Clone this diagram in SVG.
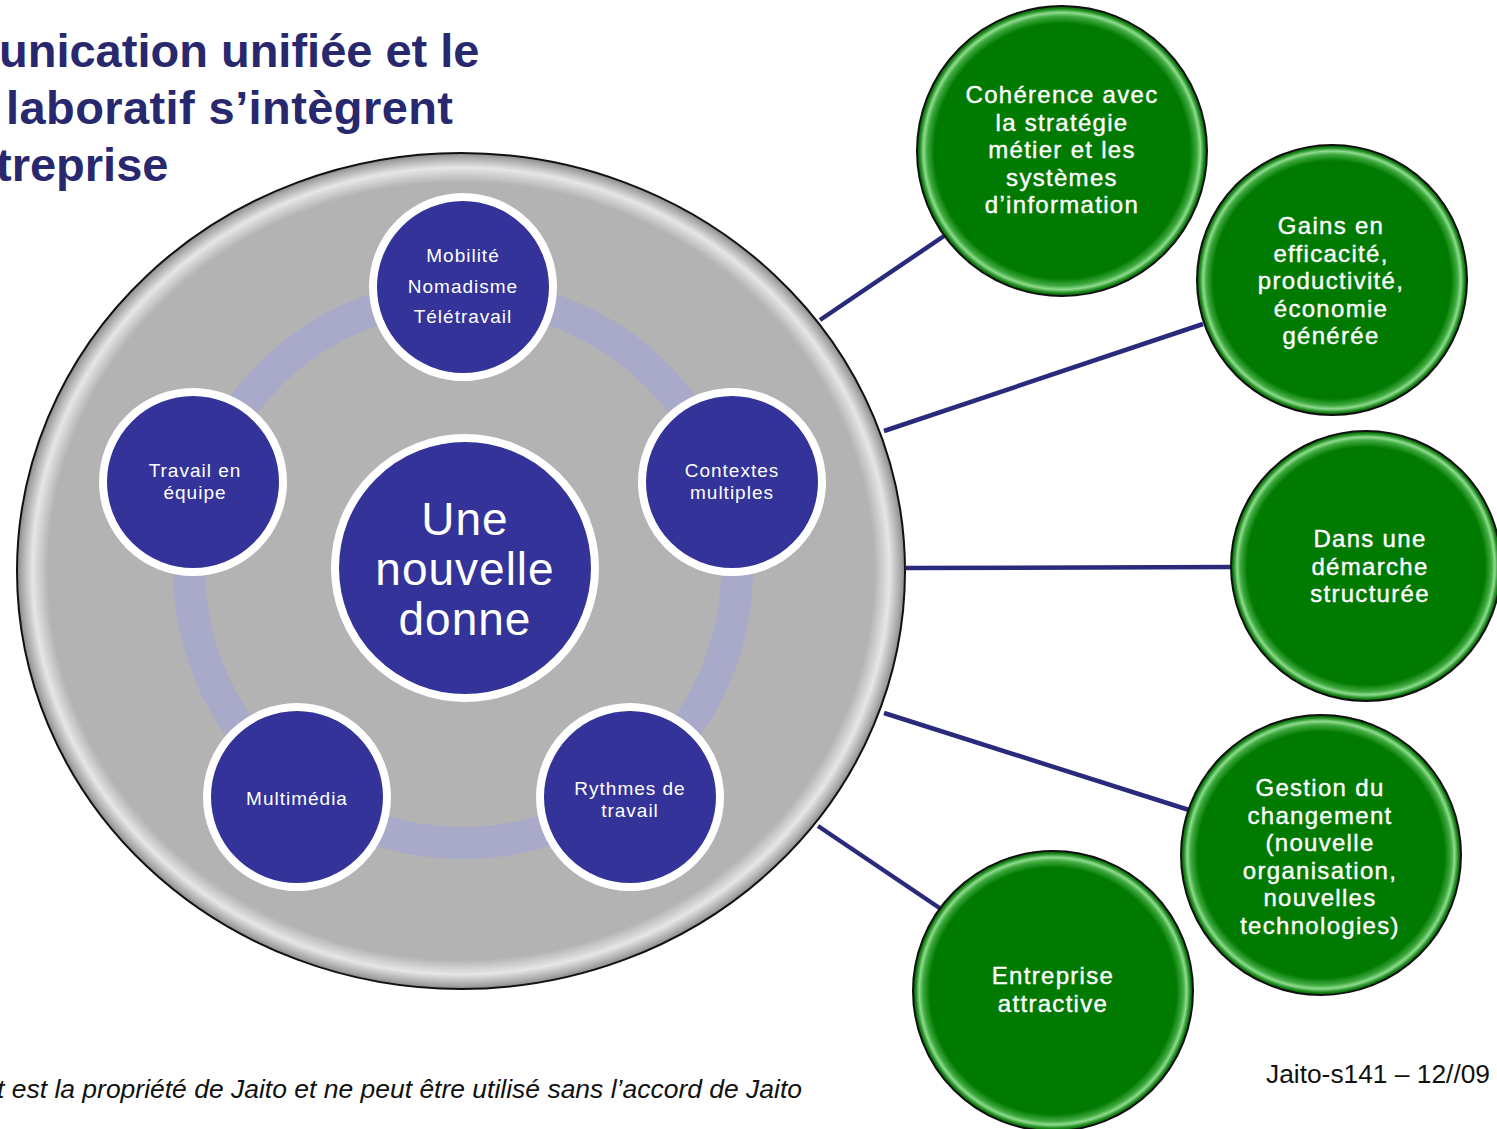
<svg xmlns="http://www.w3.org/2000/svg" width="1497" height="1129" viewBox="0 0 1497 1129">
<defs>
  <radialGradient id="gray" cx="50%" cy="50%" r="50%">
    <stop offset="0" stop-color="#b3b3b3"/>
    <stop offset="0.93" stop-color="#b3b3b3"/>
    <stop offset="0.965" stop-color="#e6e6e6"/>
    <stop offset="0.99" stop-color="#a8a8a8"/>
    <stop offset="1" stop-color="#8a8a8a"/>
  </radialGradient>
  <radialGradient id="green" cx="50%" cy="50%" r="50%">
    <stop offset="0" stop-color="#007a00"/>
    <stop offset="0.88" stop-color="#007a00"/>
    <stop offset="0.93" stop-color="#3faa3f"/>
    <stop offset="0.955" stop-color="#8fdc8f"/>
    <stop offset="0.98" stop-color="#1c8a1c"/>
    <stop offset="1" stop-color="#006000"/>
  </radialGradient>
  <style>
    .title{font-family:"Liberation Sans",Arial,sans-serif;font-weight:bold;font-size:47px;fill:#28286e}
    .blue{fill:#333399;stroke:#ffffff;stroke-width:8}
    .small{font-family:"Liberation Sans",Arial,sans-serif;font-size:19px;fill:#ffffff;letter-spacing:1px;text-anchor:middle}
    .big{font-family:"Liberation Sans",Arial,sans-serif;font-size:46px;fill:#ffffff;letter-spacing:1px;text-anchor:middle}
    .gc{fill:url(#green);stroke:#111111;stroke-width:2}
    .gt{font-family:"Liberation Sans",Arial,sans-serif;font-size:24px;fill:#ffffff;letter-spacing:1.3px;text-anchor:middle;stroke:#ffffff;stroke-width:0.4}
    .conn{stroke:#2a2a7c;stroke-width:4.5;fill:none}
    .foot{font-family:"Liberation Sans",Arial,sans-serif;font-size:25px;fill:#111111}
  </style>
</defs>
<rect width="1497" height="1129" fill="#ffffff"/>
<g id="title">
  <text class="title" x="-1" y="67">unication unifiée et le</text>
  <text class="title" x="6" y="124" textLength="447" lengthAdjust="spacing">laboratif s’intègrent</text>
  <text class="title" x="-4" y="181">treprise</text>
</g>
<g id="connectors">
  <line class="conn" x1="820" y1="320" x2="944" y2="236"/>
  <line class="conn" x1="884" y1="431" x2="1203" y2="324"/>
  <line class="conn" x1="906" y1="568" x2="1234" y2="567"/>
  <line class="conn" x1="884" y1="713" x2="1189" y2="810"/>
  <line class="conn" x1="818" y1="826" x2="941" y2="909"/>
</g>
<g id="enterprise">
  <ellipse cx="461" cy="571" rx="444" ry="418" fill="url(#gray)" stroke="#111111" stroke-width="2"/>
  <circle cx="463" cy="569" r="274" fill="none" stroke="#a9a9c9" stroke-width="32"/>
</g>
<g id="node-mobilite">
  <circle class="blue" cx="463" cy="287" r="90"/>
  <text class="small" x="463" y="262">Mobilité</text>
  <text class="small" x="463" y="293">Nomadisme</text>
  <text class="small" x="463" y="323">Télétravail</text>
</g>
<g id="node-contextes">
  <circle class="blue" cx="732" cy="482" r="90"/>
  <text class="small" x="732" y="477">Contextes</text>
  <text class="small" x="732" y="499">multiples</text>
</g>
<g id="node-rythmes">
  <circle class="blue" cx="630" cy="797" r="90"/>
  <text class="small" x="630" y="795">Rythmes de</text>
  <text class="small" x="630" y="817">travail</text>
</g>
<g id="node-multimedia">
  <circle class="blue" cx="297" cy="797" r="90"/>
  <text class="small" x="297" y="805">Multimédia</text>
</g>
<g id="node-travail">
  <circle class="blue" cx="193" cy="482" r="90"/>
  <text class="small" x="195" y="477">Travail en</text>
  <text class="small" x="195" y="499">équipe</text>
</g>
<g id="node-center">
  <circle class="blue" cx="465" cy="568" r="130"/>
  <text class="big" x="465" y="535">Une</text>
  <text class="big" x="465" y="585">nouvelle</text>
  <text class="big" x="465" y="635">donne</text>
</g>
<g id="node-coherence">
  <circle class="gc" cx="1062" cy="151" r="145"/>
  <text class="gt" x="1062" y="103">Cohérence avec</text>
  <text class="gt" x="1062" y="131">la stratégie</text>
  <text class="gt" x="1062" y="158">métier et les</text>
  <text class="gt" x="1062" y="186">systèmes</text>
  <text class="gt" x="1062" y="213">d’information</text>
</g>
<g id="node-gains">
  <circle class="gc" cx="1332" cy="280" r="135"/>
  <text class="gt" x="1331" y="234">Gains en</text>
  <text class="gt" x="1331" y="262">efficacité,</text>
  <text class="gt" x="1331" y="289">productivité,</text>
  <text class="gt" x="1331" y="317">économie</text>
  <text class="gt" x="1331" y="344">générée</text>
</g>
<g id="node-demarche">
  <circle class="gc" cx="1366" cy="566" r="135"/>
  <text class="gt" x="1370" y="547">Dans une</text>
  <text class="gt" x="1370" y="575">démarche</text>
  <text class="gt" x="1370" y="602">structurée</text>
</g>
<g id="node-gestion">
  <circle class="gc" cx="1321" cy="855" r="140"/>
  <text class="gt" x="1320" y="796">Gestion du</text>
  <text class="gt" x="1320" y="824">changement</text>
  <text class="gt" x="1320" y="851">(nouvelle</text>
  <text class="gt" x="1320" y="879">organisation,</text>
  <text class="gt" x="1320" y="906">nouvelles</text>
  <text class="gt" x="1320" y="934">technologies)</text>
</g>
<g id="node-entreprise">
  <circle class="gc" cx="1053" cy="991" r="140"/>
  <text class="gt" x="1053" y="984">Entreprise</text>
  <text class="gt" x="1053" y="1012">attractive</text>
</g>
<g id="footer">
  <text class="foot" x="-3" y="1098" font-style="italic" textLength="805" lengthAdjust="spacingAndGlyphs">t est la propriété de Jaito et ne peut être utilisé sans l’accord de Jaito</text>
  <text class="foot" x="1266" y="1083" font-size="26" textLength="224" lengthAdjust="spacingAndGlyphs">Jaito-s141 – 12//09</text>
</g>
</svg>
